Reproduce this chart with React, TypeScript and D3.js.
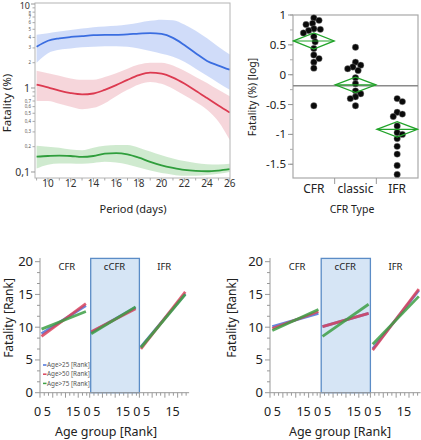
import React from 'react';
import * as d3 from 'd3';

const FONT = '"Noto Sans", "Open Sans", sans-serif';

// ---------- Top-left: fatality over period ----------
const days = [9, 10, 11, 12, 13, 14, 15, 16, 17, 18, 19, 20, 21, 22, 23, 24, 25, 26];
const blueMean = [3.1, 3.65, 3.9, 4.05, 4.15, 4.25, 4.3, 4.3, 4.35, 4.45, 4.5, 4.4, 3.95, 3.25, 2.6, 2.1, 1.85, 1.65];
const blueHi = [4.3, 4.5, 4.7, 4.9, 5.1, 5.3, 5.4, 5.5, 5.7, 6.0, 6.3, 6.5, 6.4, 5.7, 4.8, 3.9, 3.1, 2.5];
const blueLo = [2.0, 2.6, 2.85, 2.95, 3.05, 3.1, 3.15, 3.15, 3.1, 2.95, 2.75, 2.55, 2.35, 2.05, 1.7, 1.4, 1.15, 0.95];
const redMean = [1.1, 1.02, 0.93, 0.87, 0.84, 0.86, 0.95, 1.08, 1.25, 1.42, 1.52, 1.48, 1.33, 1.13, 0.93, 0.76, 0.62, 0.51];
const redHi = [1.6, 1.5, 1.4, 1.3, 1.25, 1.25, 1.35, 1.5, 1.7, 1.9, 2.0, 2.0, 1.85, 1.6, 1.35, 1.15, 0.95, 0.8];
const redLo = [0.7, 0.7, 0.65, 0.6, 0.56, 0.58, 0.66, 0.8, 0.95, 1.1, 1.18, 1.12, 0.98, 0.82, 0.68, 0.55, 0.4, 0.24];
const greenMean = [0.152, 0.155, 0.157, 0.155, 0.151, 0.155, 0.165, 0.168, 0.162, 0.148, 0.132, 0.12, 0.112, 0.106, 0.103, 0.102, 0.104, 0.108];
const greenHi = [0.205, 0.2, 0.195, 0.185, 0.182, 0.195, 0.205, 0.21, 0.21, 0.195, 0.175, 0.158, 0.145, 0.135, 0.128, 0.124, 0.123, 0.125];
const greenLo = [0.11, 0.122, 0.126, 0.126, 0.125, 0.128, 0.132, 0.13, 0.123, 0.113, 0.104, 0.097, 0.093, 0.09, 0.09, 0.092, 0.095, 0.1];
const dayTicks = [10, 12, 14, 16, 18, 20, 22, 24, 26];
const logMajor = [0.1, 1, 10];
const logMajorLabels = ['0,1', '1', '10'];
const logMinorLabelled = [2, 3, 4, 5, 6, 7, 8, 0.2, 0.3, 0.4, 0.5, 0.6, 0.7];
const logMinorLabels = ['2', '3', '4', '5', '6', '7', '8', '0,2', '0,3', '0,4', '0,5', '0,6', '0,7'];

// ---------- Top-right: fatality by CFR type ----------
const cfrTypes = ['CFR', 'classic', 'IFR'];
const cfrPoints = [0.95, 0.91, 0.86, 0.84, 0.77, 0.76, 0.74, 0.7, 0.64, 0.55, 0.44, 0.33, 0.27, 0.21, 0.11, -0.52];
const classicPoints = [0.46, 0.21, 0.16, 0.13, 0.1, 0.07, -0.05, -0.15, -0.27, -0.32, -0.37, -0.4, -0.52];
const ifrPoints = [-0.4, -0.45, -0.63, -0.66, -0.7, -0.86, -0.97, -1.0, -1.07, -1.2, -1.33, -1.52, -1.67];
const typeMeans = [0.565, -0.17, -0.915];
const typeCI = [0.135, 0.13, 0.13];
const grandMean = -0.185;
const logTicks = [1, 0.5, 0, -0.5, -1, -1.5];
const logTickLabels = ['1', '0.5', '0', '-0.5', '-1', '-1.5'];

// ---------- Bottom: rank regressions ----------
const rankGroups = ['CFR', 'cCFR', 'IFR'];
const ageLabels = ['Age>25 [Rank]', 'Age>50 [Rank]', 'Age>75 [Rank]'];
const leftAge25 = [[9.0, 13.3], [9.2, 13.0], [7.0, 15.1]];
const leftAge50 = [[8.6, 13.6], [9.3, 12.8], [6.7, 15.4]];
const leftAge75 = [[9.7, 12.4], [9.0, 13.1], [6.9, 15.0]];
const rightAge25 = [[10.1, 12.1], [10.1, 12.1], [6.7, 15.6]];
const rightAge50 = [[9.8, 12.4], [10.1, 12.1], [6.5, 15.8]];
const rightAge75 = [[9.5, 12.7], [8.6, 13.5], [7.4, 14.7]];
const leftLineX = [0.6, 18];
const rightLineX = [0.9, 18.8];
const rankTicks = [0, 5, 10, 15, 20];
const ageTickValues = [0, 5, 15];
const ageTickLabels = ['0', '5', '15'];

const AGE_COLORS = ['#4a72d8', '#d9435c', '#3d9f45'];

function TopLeft() {
  const x = d3.scaleLinear().domain([8.86, 26.02]).range([35, 230]);
  const y = d3.scaleLog().domain([0.0848, 10.28]).range([178, 3]);
  const series = [
    { mean: blueMean, lo: blueLo, hi: blueHi, line: '#3a6de0', band: 'rgba(85,130,235,0.28)' },
    { mean: redMean, lo: redLo, hi: redHi, line: '#dc3a50', band: 'rgba(222,95,115,0.26)' },
    { mean: greenMean, lo: greenLo, hi: greenHi, line: '#2f9e3c', band: 'rgba(70,175,70,0.26)' },
  ];
  const area = (lo: number[], hi: number[]) =>
    d3.area<number>()
      .x((d) => x(d))
      .y0((_, i) => y(lo[i]))
      .y1((_, i) => y(hi[i]))
      .curve(d3.curveMonotoneX)(days) as string;
  const line = (m: number[]) =>
    d3.line<number>().x((d) => x(d)).y((_, i) => y(m[i])).curve(d3.curveMonotoneX)(days) as string;
  const minorTicks: number[] = [];
  [0.1, 1].forEach((dec) => d3.range(2, 10).forEach((k) => minorTicks.push(k * dec)));
  const dayMinor = d3.range(9, 27);
  const minorDy: Record<number, number> = { 8: 1.2, 7: 0.7 };
  return (
    <g>
      <defs>
        <clipPath id="tlclip">
          <rect x={35} y={3} width={195} height={175} />
        </clipPath>
      </defs>
      <g clipPath="url(#tlclip)">
        {series.map((s, i) => (
          <path key={'b' + i} d={area(s.lo, s.hi)} fill={s.band} />
        ))}
        {series.map((s, i) => (
          <path key={'l' + i} d={line(s.mean)} fill="none" stroke={s.line} strokeWidth={1.8} />
        ))}
      </g>
      <rect x={35} y={3} width={195} height={175} fill="none" stroke="#b4b4b4" strokeWidth={1} />
      {logMajor.map((v, i) => (
        <g key={'ym' + i}>
          <line x1={31} x2={35} y1={y(v)} y2={y(v)} stroke="#999" />
          <text x={30} y={Math.max(y(v), 6)} dy="0.35em" textAnchor="end" fontSize={v === 10 ? 9 : 10.5} fill="#333">{logMajorLabels[i]}</text>
        </g>
      ))}
      {minorTicks.map((v, i) => (
        <line key={'yn' + i} x1={32.5} x2={35} y1={y(v)} y2={y(v)} stroke="#aaa" />
      ))}
      {logMinorLabelled.map((v, i) => (
        <text key={'yl' + i} x={31} y={y(v) + (minorDy[v] || 0)} dy="0.35em" textAnchor="end" fontSize={4.4} fill="#555">{logMinorLabels[i]}</text>
      ))}
      {dayMinor.map((v) => (
        <line key={'xm' + v} x1={x(v)} x2={x(v)} y1={178} y2={v % 2 === 0 ? 182 : 180.5} stroke="#aaa" />
      ))}
      {dayTicks.map((v) => (
        <text key={'xl' + v} x={x(v)} y={187} textAnchor="middle" fontSize={10} fill="#333">{v}</text>
      ))}
      <text x={133} y={213} textAnchor="middle" fontSize={11} fill="#222">Period (days)</text>
      <text transform="translate(11,103) rotate(-90)" textAnchor="middle" fontSize={11.5} fill="#222">Fatality (%)</text>
    </g>
  );
}

function swarm(values: number[], yS: (v: number) => number, cx: number, minDist: number) {
  const order = values.map((v, i) => i).sort((a, b) => values[b] - values[a]);
  const placed: { x: number; y: number }[] = [];
  const out: { x: number; y: number }[] = new Array(values.length);
  for (const i of order) {
    const py = yS(values[i]);
    let px = cx;
    for (let k = 0; k < 40; k++) {
      const cands = k === 0 ? [0] : [k * 1.3, -k * 1.3];
      let found = false;
      for (const c of cands) {
        const tx = cx + c;
        if (placed.every((p) => Math.hypot(p.x - tx, p.y - py) >= minDist)) {
          px = tx;
          found = true;
          break;
        }
      }
      if (found) break;
    }
    placed.push({ x: px, y: py });
    out[i] = { x: px, y: py };
  }
  return out;
}

function TopRight() {
  const x = d3.scaleBand<string>().domain(cfrTypes).range([293, 418]);
  const y = d3.scaleLinear().domain([-1.73, 1.0]).range([178, 15]);
  const groups = [cfrPoints, classicPoints, ifrPoints];
  const minor = d3.range(-1.75, 1.01, 0.25).filter((v) => v >= -1.73);
  const bw = x.bandwidth();
  return (
    <g>
      <rect x={293} y={15} width={125} height={163} fill="none" stroke="#a8a8a8" strokeWidth={1.2} />
      <line x1={293} x2={418} y1={y(grandMean)} y2={y(grandMean)} stroke="#8a8a8a" strokeWidth={1.3} />
      {minor.map((v, i) => (
        <line key={'mn' + i} x1={290} x2={293} y1={y(v)} y2={y(v)} stroke="#aaa" />
      ))}
      {logTicks.map((v, i) => (
        <g key={'t' + i}>
          <line x1={288} x2={293} y1={y(v)} y2={y(v)} stroke="#999" />
          <text x={286} y={y(v)} dy="0.35em" textAnchor="end" fontSize={11.5} fill="#222">{logTickLabels[i]}</text>
        </g>
      ))}
      {cfrTypes.slice(1).map((c) => (
        <line key={'sep' + c} x1={x(c)} x2={x(c)} y1={178} y2={184} stroke="#999" />
      ))}
      {cfrTypes.map((c) => (
        <text key={'c' + c} x={(x(c) as number) + bw / 2} y={193} textAnchor="middle" fontSize={12} fill="#222">{c}</text>
      ))}
      {groups.map((g, gi) => {
        const cx = (x(cfrTypes[gi]) as number) + bw / 2;
        const pts = swarm(g, y, cx, 5.4);
        return pts.map((p, i) => (
          <circle key={gi + '-' + i} cx={p.x} cy={p.y} r={3.2} fill="#0a0a0a" stroke="#8a8a8a" strokeWidth={0.4} />
        ));
      })}
      {typeMeans.map((m, i) => {
        const x0 = (x(cfrTypes[i]) as number) + 0.5;
        const x1 = x0 + bw - 1;
        const xc = (x0 + x1) / 2;
        const d = `M${x0},${y(m)}L${xc},${y(m + typeCI[i])}L${x1},${y(m)}L${xc},${y(m - typeCI[i])}Z`;
        return (
          <g key={'dm' + i}>
            <path d={d} fill="none" stroke="#22a32a" strokeWidth={1.3} />
            <line x1={x0} x2={x1} y1={y(m)} y2={y(m)} stroke="#22a32a" strokeWidth={1.1} />
          </g>
        );
      })}
      <text transform="translate(256,97) rotate(-90)" textAnchor="middle" fontSize={10.5} fill="#222">Fatality (%) [log]</text>
      <text x={352} y={213} textAnchor="middle" fontSize={10.5} fill="#222">CFR Type</text>
    </g>
  );
}

function RankChart({ axisX, pw, lineX, series, legend, yTitleX, xTitleX }: any) {
  const y = d3.scaleLinear().domain([0, 20.5]).range([392.7, 258.4]);
  const panels = d3.scaleBand<string>().domain(rankGroups).range([axisX, axisX + 3 * pw]);
  const yMinor = d3.range(0, 20.01, 5 / 3);
  const xMinor = d3.range(0, 19.5, 5 / 3);
  const labelDx: Record<number, number> = { 0: -2.5, 5: -5.5, 15: -5 };
  return (
    <g>
      {rankGroups.map((g) => {
        const L = panels(g) as number;
        return g === 'cCFR' ? (
          <rect key="box" x={L + 1} y={258.4} width={pw - 1} height={392.7 - 258.4} fill="#d6e5f5" stroke="#5b8cc6" strokeWidth={1.3} />
        ) : null;
      })}
      <line x1={axisX} x2={axisX} y1={258} y2={392.7} stroke="#999" />
      <line x1={axisX} x2={axisX + 3 * pw} y1={392.7} y2={392.7} stroke="#999" />
      {yMinor.map((v, i) => {
        const major = i % 3 === 0;
        return <line key={'ym' + i} x1={axisX - (major ? 5 : 3)} x2={axisX} y1={y(v)} y2={y(v)} stroke="#999" />;
      })}
      {rankTicks.map((v) => (
        <text key={'yl' + v} x={axisX - 7} y={y(v)} dy="0.35em" textAnchor="end" fontSize={13} fill="#222">{v}</text>
      ))}
      {rankGroups.map((g, gi) => {
        const L = panels(g) as number;
        const xs = d3.scaleLinear().domain([0, 19.5]).range([L, L + pw]);
        return (
          <g key={'p' + g}>
            {xMinor.map((v, i) => (
              <line key={'xt' + i} x1={xs(v)} x2={xs(v)} y1={392.7} y2={392.7 + (i % 3 === 0 ? 5 : 3)} stroke="#999" />
            ))}
            {ageTickValues.map((v, i) => (
              <text key={'xl' + v} x={xs(v) + labelDx[v]} y={416} textAnchor="middle" fontSize={12.5} fill="#222">{ageTickLabels[i]}</text>
            ))}
            <text x={L + pw / 2 + (gi === 0 ? 2 : 0)} y={270} textAnchor="middle" fontSize={9.5} fill="#222">{g}</text>
            {series.map((s: number[][], si: number) => (
              <line
                key={'ln' + si}
                x1={xs(lineX[0])}
                x2={xs(lineX[1])}
                y1={y(s[gi][0])}
                y2={y(s[gi][1])}
                stroke={AGE_COLORS[si]}
                strokeWidth={2.8}
                strokeOpacity={0.85}
              />
            ))}
          </g>
        );
      })}
      {legend &&
        ageLabels.map((a, i) => (
          <g key={'lg' + i}>
            <line x1={axisX + 3} x2={axisX + 6.5} y1={365 + i * 9.2} y2={365 + i * 9.2} stroke={AGE_COLORS[i]} strokeWidth={1.5} />
            <text x={axisX + 7} y={365 + i * 9.2} dy="0.35em" fontSize={6.3} fill="#555">{a}</text>
          </g>
        ))}
      <text transform={`translate(${yTitleX},318) rotate(-90)`} textAnchor="middle" fontSize={12} fill="#222">Fatality [Rank]</text>
      <text x={xTitleX} y={436} textAnchor="middle" fontSize={12.5} fill="#222">Age group [Rank]</text>
    </g>
  );
}

export default function App() {
  return (
    <svg
      width={421}
      height={440}
      style={{ position: 'absolute', left: 0, top: 0, background: '#fff' }}
      fontFamily={FONT}
    >
      <TopLeft />
      <TopRight />
      <RankChart axisX={40} pw={49.7} lineX={leftLineX} series={[leftAge25, leftAge50, leftAge75]} legend yTitleX={13} xTitleX={106} />
      <RankChart axisX={270} pw={50.2} lineX={rightLineX} series={[rightAge25, rightAge50, rightAge75]} legend={false} yTitleX={236} xTitleX={340} />
    </svg>
  );
}
